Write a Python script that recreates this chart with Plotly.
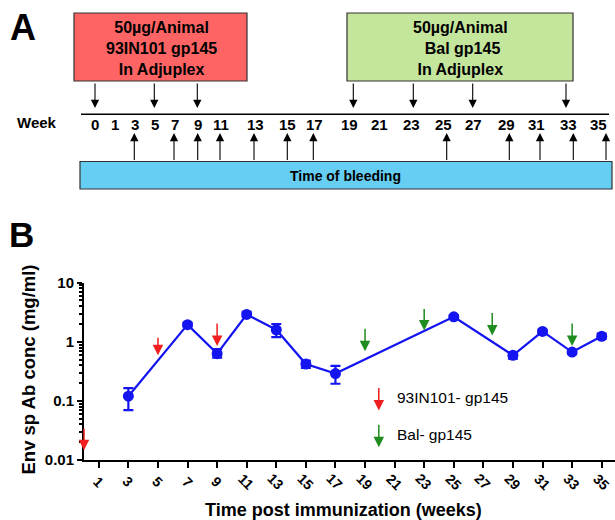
import math
import plotly.graph_objects as go

# ---------------- data: panel B ----------------
weeks = [3, 7, 9, 11, 13, 15, 17, 25, 29, 31, 33, 35]
ab_conc = [0.12, 1.95, 0.63, 2.9, 1.6, 0.42, 0.29, 2.65, 0.59, 1.5, 0.67, 1.24]
ab_upper = [0.165, 2.1, 0.75, 3.2, 2.0, 0.48, 0.39, 2.8, 0.67, 1.6, 0.72, 1.38]
ab_lower = [0.07, 1.82, 0.54, 2.65, 1.2, 0.36, 0.195, 2.5, 0.52, 1.42, 0.62, 1.12]
x_ticks = list(range(1, 36, 2))
y_tickvals = [0.01, 0.1, 1, 10]
y_ticktext = ["0.01", "0.1", "1", "10"]
red_weeks = [0, 5, 9]
green_weeks = [19, 23, 27.6, 33]
legend_labels = ["93IN101- gp145", "Bal- gp145"]

# ---------------- data: panel A ----------------
timeline_weeks = [0, 1, 3, 5, 7, 9, 11, 13, 15, 17, 19, 21, 23, 25, 27, 29, 31, 33, 35]
immun1_weeks = [0, 5, 9]
immun2_weeks = [19, 23, 27, 33]
bleed_weeks = [3, 7, 9, 11, 13, 15, 17, 25, 29, 31, 33, 35]
box1_text = "50µg/Animal<br>93IN101 gp145<br>In Adjuplex"
box2_text = "50µg/Animal<br> Bal gp145<br>In Adjuplex"
bar_text = "Time of bleeding"

# ---------------- layout (schematic positions, pixel space of panel A) ----------------
label_px = [94.7, 115, 135.3, 155.3, 175.3, 197.7, 221, 255, 287, 314,
            349.7, 379.7, 411, 443, 473.7, 506.3, 536.7, 568.3, 598.7]
down_px = {0: 95, 5: 154.3, 9: 197.3, 19: 353.3, 23: 413.3, 27: 472.7, 33: 566}
up_px = {3: 134.3, 7: 174, 9: 197.7, 11: 220, 13: 254, 15: 287.3, 17: 313.3,
         25: 446.7, 29: 509.3, 31: 540, 33: 573.3, 35: 606}
red_tip = [0.0146, 0.59, 0.85]       # tip levels of arrows in panel B
red_len = [23, 19, 24]
green_tip = [0.69, 1.55, 1.28, 0.845]
green_len = [24, 23, 24, 24]

W, H = 615, 520
FONT = "Arial, Liberation Sans, sans-serif"
BLUE = "#1414F0"
RED = "#F01E1E"
GREEN = "#1E8C1E"

fig = go.Figure()

fig.add_trace(go.Scatter(
    x=weeks, y=ab_conc, mode="lines+markers",
    line=dict(color=BLUE, width=2.2),
    marker=dict(color=BLUE, size=11, symbol="circle"),
    error_y=dict(type="data", symmetric=False,
                 array=[u - m for u, m in zip(ab_upper, ab_conc)],
                 arrayminus=[m - l for m, l in zip(ab_conc, ab_lower)],
                 color=BLUE, thickness=2.2, width=5),
    cliponaxis=False, xaxis="x", yaxis="y", showlegend=False,
))
# invisible trace for schematic axis
fig.add_trace(go.Scatter(x=[0], y=[0], mode="markers", marker=dict(opacity=0),
                         xaxis="x2", yaxis="y2", showlegend=False, hoverinfo="skip"))

minor_vals = [m * 10 ** k for k in range(-2, 1) for m in range(2, 10)]

fig.update_layout(
    template="none",
    width=W, height=H, margin=dict(l=0, r=0, t=0, b=0, pad=0, autoexpand=False),
    paper_bgcolor="white", plot_bgcolor="rgba(0,0,0,0)",
    font=dict(family=FONT, color="black"),
    showlegend=False,
    xaxis=dict(domain=[84 / W, 1], range=[0, 35.9], anchor="y", automargin=False,
               tickvals=x_ticks, showticklabels=False,
               ticks="outside", ticklen=6, tickwidth=2, tickcolor="black",
               showline=True, linewidth=2, linecolor="black",
               showgrid=False, zeroline=False),
    yaxis=dict(domain=[1 - 460 / H, 1 - 282.7 / H], type="log", range=[-2, 1],
               anchor="x", automargin=False, tickvals=y_tickvals, ticktext=y_ticktext,
               tickfont=dict(size=15, family=FONT, weight="bold"),
               ticks="outside", ticklen=5, tickwidth=2, tickcolor="black",
               minor=dict(tickvals=minor_vals, ticks="outside", ticklen=3,
                          tickwidth=1.5, tickcolor="black", showgrid=False),
               showline=True, linewidth=2, linecolor="black",
               showgrid=False, zeroline=False),
    xaxis2=dict(domain=[0, 1], range=[0, W], anchor="y2", visible=False, automargin=False),
    yaxis2=dict(domain=[0, 1], range=[H, 0], anchor="x2", visible=False, automargin=False),
)

ann = []
shapes = []

def text_ann(x, y, text, font, xref="paper", yref="paper", angle=0,
             xanchor="center", yanchor="middle"):
    return dict(x=x, y=y, xref=xref, yref=yref, text=text, showarrow=False,
                textangle=angle, xanchor=xanchor, yanchor=yanchor, font=font)

# ---------- panel B annotations ----------
tick_font = dict(size=14, family=FONT, weight="bold")
for wk in x_ticks:
    ann.append(text_ann(wk, 1 - 481.5 / H, str(wk), tick_font, xref="x", angle=45))
ann.append(text_ann(343.5 / W, 1 - 510 / H, "Time post immunization (weeks)",
                    dict(size=18, family=FONT, weight="bold")))
ann.append(text_ann(28 / W, 1 - 369.5 / H, "Env sp Ab conc (mg/ml)",
                    dict(size=18.5, family=FONT, weight="bold"), angle=-90))
ann.append(text_ann(21 / W, 1 - 235 / H, "B", dict(size=35, family=FONT, weight="bold")))

def b_arrow(x, tip, length, color):
    return dict(x=x, y=math.log10(tip), xref="x", yref="y", ax=0, ay=-length,
                text="", showarrow=True, arrowhead=2, arrowsize=1.4,
                arrowwidth=1.5, arrowcolor=color, standoff=0)

for wk, tip, ln in zip(red_weeks, red_tip, red_len):
    ann.append(b_arrow(wk, tip, ln, RED))
for wk, tip, ln in zip(green_weeks, green_tip, green_len):
    ann.append(b_arrow(wk, tip, ln, GREEN))

# legend
ann.append(b_arrow(19.93, 0.069, 24, RED))
ann.append(b_arrow(19.93, 0.0164, 24, GREEN))
for lab, yv in zip(legend_labels, [0.116, 0.0272]):
    ann.append(text_ann(21.0, math.log10(yv), lab, dict(size=15.5, family=FONT),
                        xref="x", yref="y", xanchor="left"))

# ---------- panel A ----------
ann.append(text_ann(22.5, 27, "A", dict(size=36, family=FONT, weight="bold"),
                    xref="x2", yref="y2"))
shapes.append(dict(type="rect", xref="x2", yref="y2", x0=74, x1=247, y0=13, y1=81,
                   fillcolor="#FF6464", line=dict(color="#333333", width=1.2)))
shapes.append(dict(type="rect", xref="x2", yref="y2", x0=347, x1=573, y0=13, y1=81,
                   fillcolor="#C4E59C", line=dict(color="#333333", width=1.2)))
shapes.append(dict(type="rect", xref="x2", yref="y2", x0=80, x1=612, y0=161.5, y1=189,
                   fillcolor="#66CEF2", line=dict(color="#333333", width=1.2)))
shapes.append(dict(type="line", xref="x2", yref="y2", x0=81, x1=609, y0=114.3, y1=114.3,
                   line=dict(color="black", width=1.5)))
box_font = dict(size=16, family=FONT, weight="bold")
ann.append(text_ann(161.5, 48, box1_text, box_font, xref="x2", yref="y2"))
ann.append(text_ann(460, 48, box2_text, box_font, xref="x2", yref="y2"))
ann.append(text_ann(345, 175.5, bar_text, dict(size=14, family=FONT, weight="bold"),
                    xref="x2", yref="y2"))
wk_font = dict(size=15, family=FONT, weight="bold")
ann.append(text_ann(37, 122.5, "Week", wk_font, xref="x2", yref="y2"))
for wk, px in zip(timeline_weeks, label_px):
    ann.append(text_ann(px, 124.5, str(wk), wk_font, xref="x2", yref="y2"))

def a_arrow(px, tail, tip):
    return dict(x=px, y=tip, ax=px, ay=tail, xref="x2", yref="y2",
                axref="x2", ayref="y2", text="", showarrow=True, arrowhead=2,
                arrowsize=1.5, arrowwidth=1.1, arrowcolor="black", standoff=0)

for wk in immun1_weeks + immun2_weeks:
    ann.append(a_arrow(down_px[wk], 82, 108))
for wk in bleed_weeks:
    ann.append(a_arrow(up_px[wk], 161.5, 133))

fig.update_layout(annotations=ann, shapes=shapes)
fig.write_html("out.html", config={"displayModeBar": False},
               post_script="document.body.style.margin='0';document.body.style.overflow='hidden';")
